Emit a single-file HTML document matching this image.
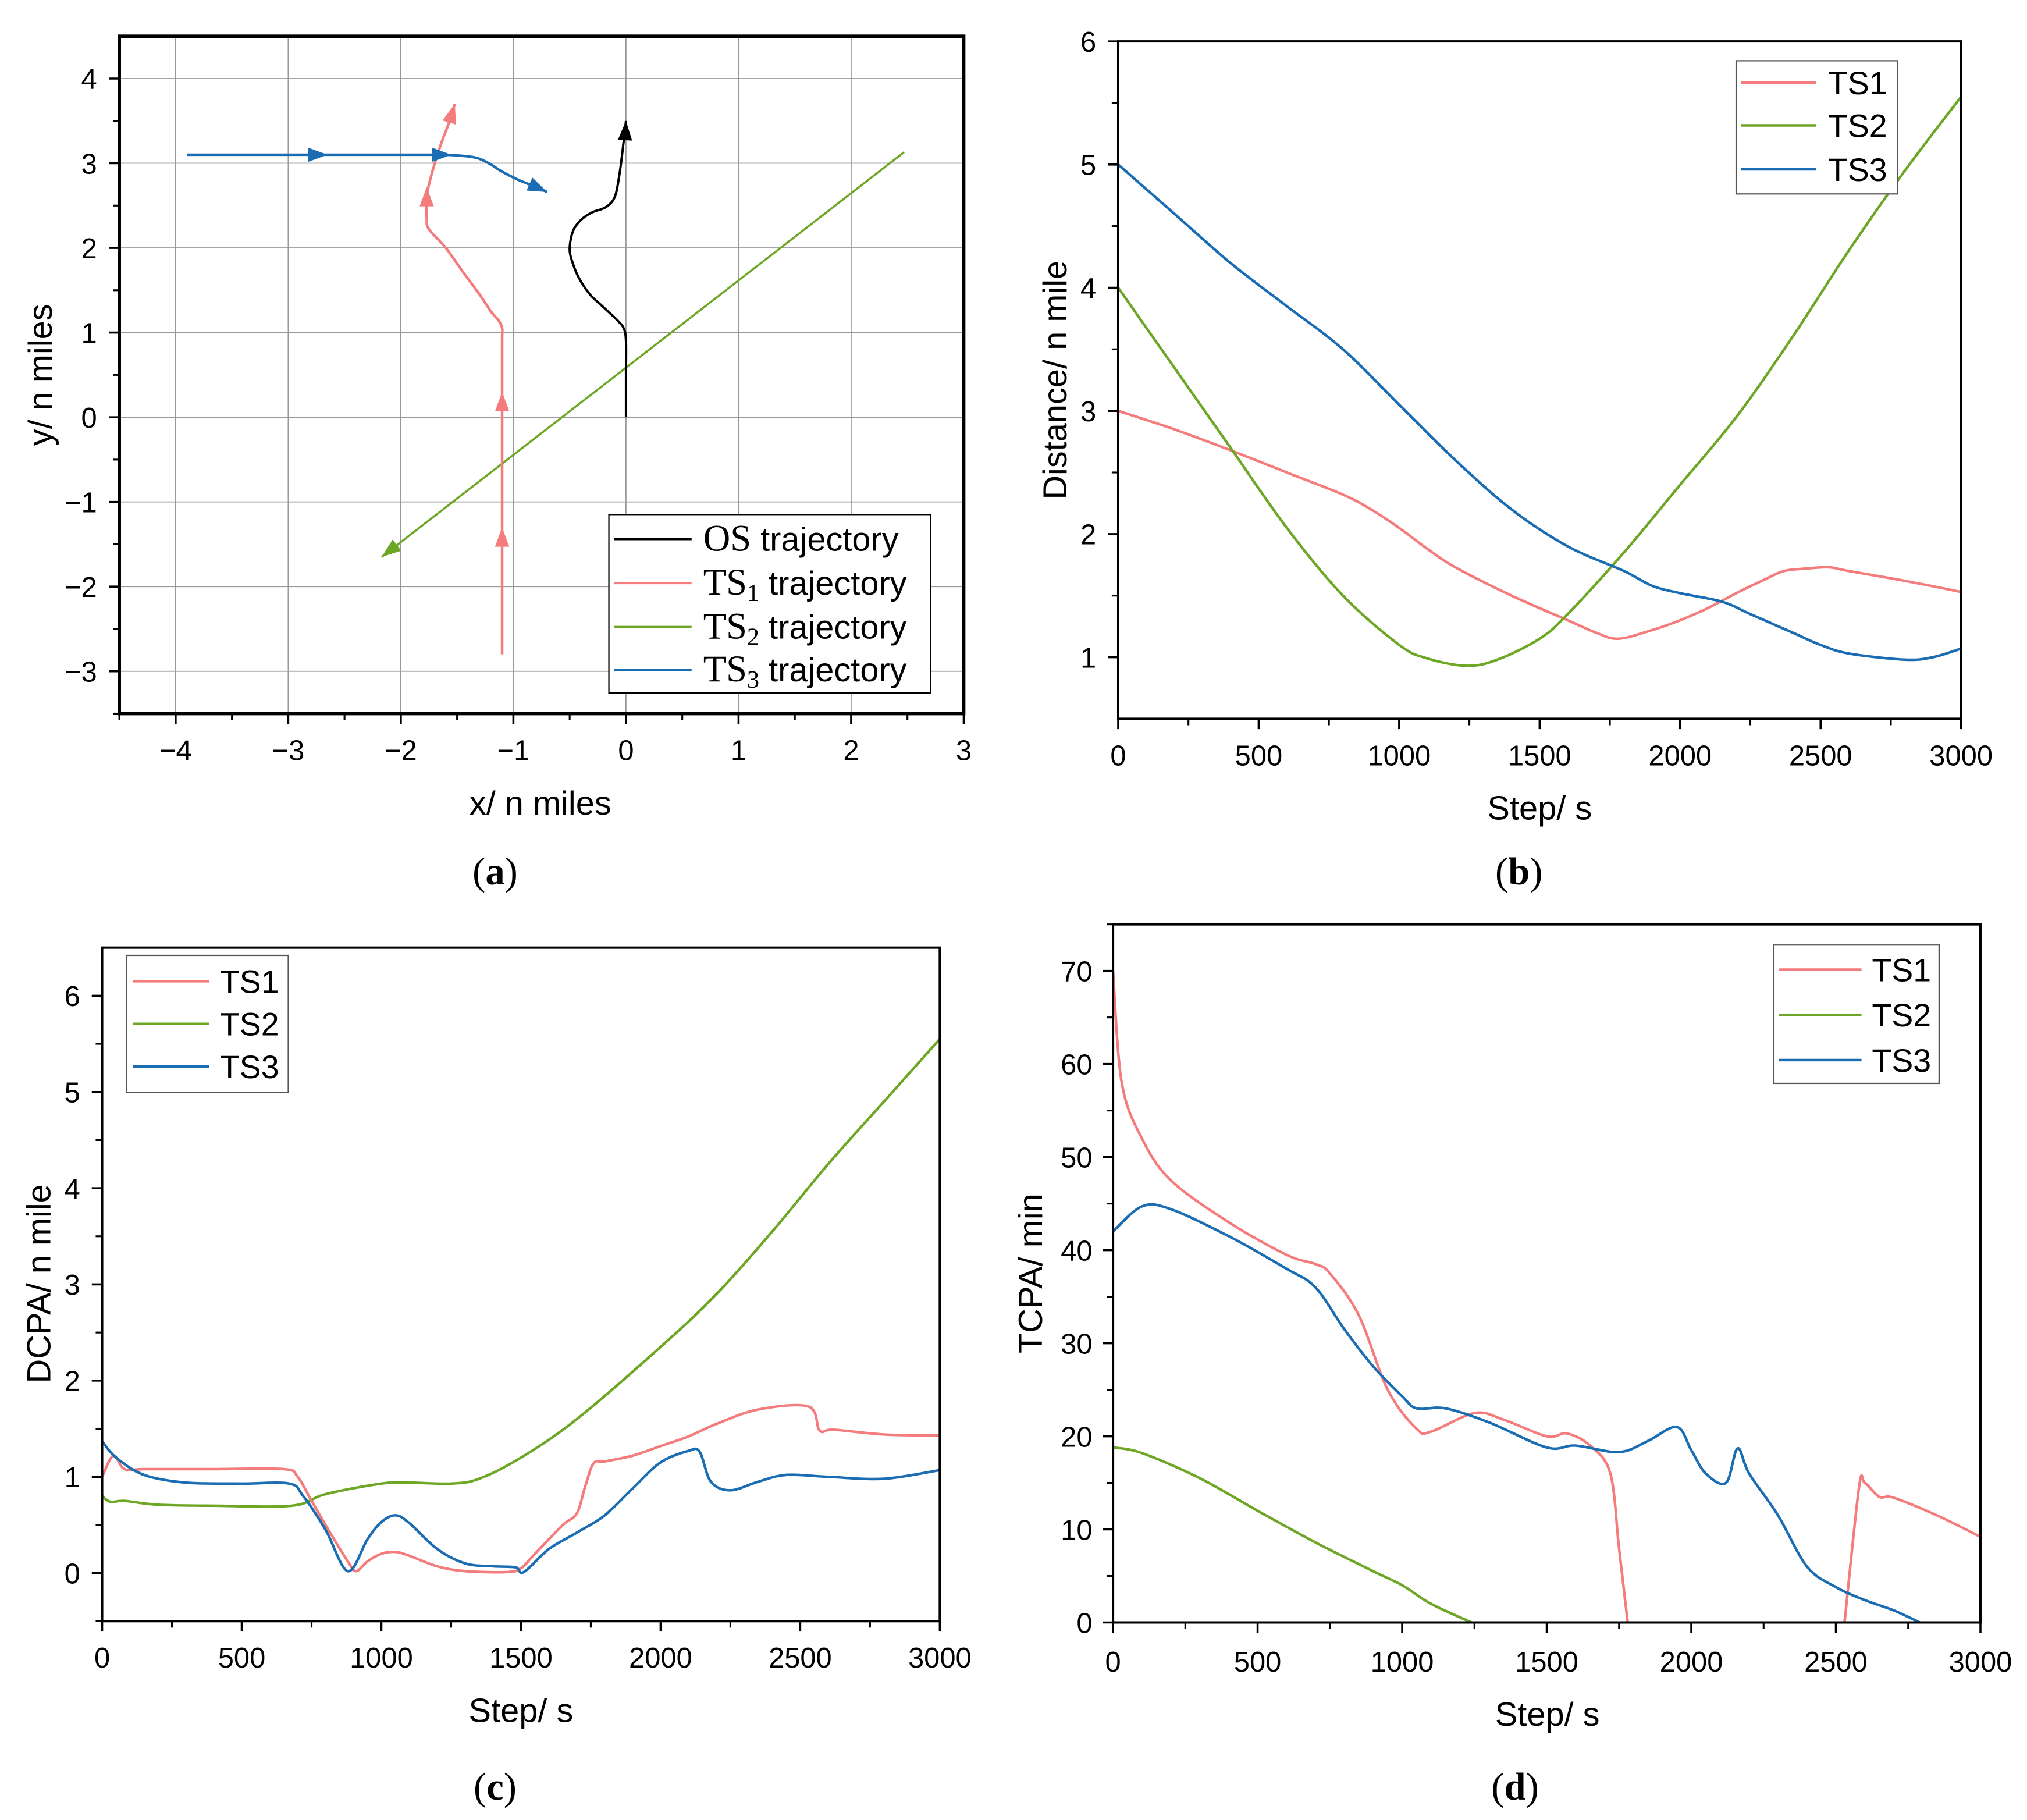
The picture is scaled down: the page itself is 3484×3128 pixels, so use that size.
<!DOCTYPE html>
<html><head><meta charset="utf-8"><style>
html,body{margin:0;padding:0;background:#fff}
svg{display:block}
text{font-family:"Liberation Sans",Arial,sans-serif;fill:#000}
.serif{font-family:"Liberation Serif",serif}
</style></head><body>
<svg id="fig" width="3484" height="3128" viewBox="0 0 1568 1407.8" xmlns="http://www.w3.org/2000/svg"></svg>
<script>
// ---- Panel (a) data ----
const osX=[0,0,0,-0.02,-0.08,-0.2,-0.32,-0.42,-0.48,-0.5,-0.47,-0.4,-0.3,-0.18,-0.1,-0.06,-0.03,0];
const osY=[0,0.5,0.9,1.05,1.15,1.3,1.45,1.65,1.85,2.0,2.2,2.33,2.42,2.48,2.6,2.85,3.15,3.5];
const ts1aX=[-1.1,-1.1,-1.1,-1.1,-1.1,-1.13,-1.2,-1.3,-1.45,-1.6,-1.75,-1.77,-1.77,-1.73,-1.65,-1.58,-1.52];
const ts1aY=[-2.8,-1.5,0,0.9,1.05,1.14,1.25,1.45,1.72,2.0,2.22,2.35,2.6,2.85,3.2,3.45,3.7];
const ts2aX=[2.47,-2.17];
const ts2aY=[3.13,-1.65];
const ts3aX=[-3.9,-2.8,-1.8,-1.6,-1.35,-1.22,-1.1,-0.95,-0.8,-0.7];
const ts3aY=[3.1,3.1,3.1,3.1,3.07,3.0,2.9,2.8,2.72,2.66];
const xTicksA=[-4,-3,-2,-1,0,1,2,3];
const yTicksA=[-3,-2,-1,0,1,2,3,4];
// ---- Panel (b) data ----
const ts1bS=[0,200,400,600,800,900,1000,1100,1200,1400,1600,1700,1780,1900,2000,2100,2200,2300,2370,2450,2530,2600,2800,3000];
const ts1bD=[3.0,2.85,2.68,2.5,2.32,2.2,2.05,1.88,1.73,1.5,1.3,1.2,1.15,1.22,1.3,1.4,1.52,1.63,1.7,1.72,1.73,1.7,1.62,1.53];
const ts2bS=[0,200,400,600,800,1000,1100,1240,1350,1500,1600,1800,2000,2200,2400,2600,2800,3000];
const ts2bD=[4.0,3.35,2.7,2.05,1.5,1.1,0.99,0.93,0.98,1.15,1.35,1.85,2.4,2.95,3.6,4.3,4.95,5.55];
const ts3bS=[0,200,400,600,800,1000,1200,1400,1600,1800,1900,2000,2150,2250,2400,2500,2600,2800,2900,3000];
const ts3bD=[5.0,4.6,4.2,3.85,3.5,3.05,2.6,2.2,1.9,1.7,1.58,1.52,1.45,1.35,1.2,1.1,1.03,0.98,1.0,1.07];
const xTicksStep=[0,500,1000,1500,2000,2500,3000];
const yTicksB=[1,2,3,4,5,6];
// ---- Panel (c) data ----
const ts1cS=[0,40,80,150,400,650,700,750,800,880,910,950,1000,1050,1100,1200,1300,1450,1500,1550,1650,1700,1730,1760,1800,1900,2000,2100,2200,2350,2530,2570,2620,2800,3000];
const ts1cD=[1.0,1.22,1.08,1.08,1.08,1.08,1.0,0.75,0.5,0.12,0.02,0.12,0.2,0.22,0.18,0.07,0.02,0.01,0.05,0.2,0.5,0.62,0.9,1.14,1.16,1.22,1.32,1.42,1.55,1.7,1.73,1.48,1.49,1.44,1.43];
const ts2cS=[0,30,80,200,400,680,800,1000,1100,1250,1350,1500,1700,2000,2200,2400,2600,2800,3000];
const ts2cD=[0.8,0.74,0.75,0.71,0.7,0.7,0.82,0.93,0.94,0.93,0.98,1.2,1.6,2.35,2.9,3.55,4.25,4.9,5.55];
const ts3cS=[0,50,150,300,500,670,720,800,880,950,1000,1050,1100,1200,1300,1400,1480,1510,1600,1700,1800,1900,2000,2100,2140,2180,2250,2350,2450,2600,2800,3000];
const ts3cD=[1.37,1.2,1.02,0.94,0.93,0.93,0.8,0.45,0.02,0.35,0.53,0.6,0.52,0.25,0.1,0.07,0.06,0.01,0.25,0.42,0.6,0.88,1.15,1.27,1.26,0.95,0.86,0.95,1.02,1.0,0.98,1.07];
const yTicksC=[0,1,2,3,4,5,6];
// ---- Panel (d) data ----
const ts1dS=[0,30,100,200,400,600,700,750,850,950,1050,1100,1250,1350,1500,1570,1650,1720,1750,1780];
const ts1dT=[70,58,52,47.5,43,39.5,38.5,37.5,33,25,20.8,20.5,22.5,21.8,20,20.3,19,16,8,0];
const ts1d2S=[2530,2580,2600,2650,2700,2850,3000];
const ts1d2T=[0,14.5,15,13.5,13.4,11.5,9.2];
const ts2dS=[0,100,300,500,700,900,1000,1100,1240];
const ts2dT=[18.8,18.2,15.5,12,8.6,5.5,4,2,0];
const ts3dS=[0,100,200,400,600,700,800,900,1000,1050,1150,1300,1500,1600,1750,1850,1950,2000,2050,2120,2160,2200,2300,2400,2500,2600,2700,2790];
const ts3dT=[42,44.7,44.4,41.5,38,36,31.5,27.5,24.3,23,23,21.5,18.8,19,18.3,19.5,21,18.5,16,15,18.7,16,11.5,6,3.8,2.4,1.3,0];
const yTicksD=[0,10,20,30,40,50,60,70];

const C1='#f47c7c',C2='#6ea626',C3='#1a6db3';
const NS='http://www.w3.org/2000/svg';
const svg=document.getElementById('fig');
function mk(tag,attrs,parent){const e=document.createElementNS(NS,tag);for(const k in attrs)e.setAttribute(k,attrs[k]);(parent||svg).appendChild(e);return e;}
function txt(x,y,s,size,anchor,parent,cls){const t=mk('text',{x:x,y:y,'font-size':size,'text-anchor':anchor||'middle'},parent);if(cls)t.setAttribute('class',cls);t.textContent=s;return t;}
function scale(d0,d1,r0,r1){return v=>r0+(v-d0)/(d1-d0)*(r1-r0);}
function catmull(pts){if(pts.length<3)return 'M'+pts.map(p=>p.join(',')).join('L');let d='M'+pts[0][0]+','+pts[0][1];for(let i=0;i<pts.length-1;i++){const p0=pts[Math.max(0,i-1)],p1=pts[i],p2=pts[i+1],p3=pts[Math.min(pts.length-1,i+2)];const c1x=p1[0]+(p2[0]-p0[0])/6,c1y=p1[1]+(p2[1]-p0[1])/6,c2x=p2[0]-(p3[0]-p1[0])/6,c2y=p2[1]-(p3[1]-p1[1])/6;d+='C'+c1x+','+c1y+' '+c2x+','+c2y+' '+p2[0]+','+p2[1];}return d;}
function series(g,xs,ys,sx,sy,color,name,w){const pts=xs.map((v,i)=>[sx(v),sy(ys[i])]);const p=mk('path',{d:catmull(pts),fill:'none',stroke:color,'stroke-width':w||2,'stroke-linejoin':'round'},g);return p;}
function arrowAt(g,x,y,dx,dy,color){const L=Math.hypot(dx,dy);const ux=dx/L,uy=dy/L;const len=15,hw=5.5;const bx=x-ux*len,by=y-uy*len;const a=mk('polygon',{points:`${x},${y} ${bx-uy*hw},${by+ux*hw} ${bx+uy*hw},${by-ux*hw}`,fill:color},g);}
function frame(g,L,R,T,B){const r=mk('rect',{x:L,y:T,width:R-L,height:B-T,fill:'none',stroke:'#000','stroke-width':1.8},g);}
function axes(g,L,R,T,B,sx,sy,xt,yt,xMinor,yMinor,xFmt,yFmt,xLabY,yLabX){
 const ax=mk('g',{},g);
 xt.forEach(v=>{const x=sx(v);mk('line',{x1:x,x2:x,y1:B,y2:B+8,stroke:'#000','stroke-width':1.6},ax);const t=txt(x,xLabY,xFmt(v),22,'middle',ax);});
 xMinor.forEach(v=>{const x=sx(v);mk('line',{x1:x,x2:x,y1:B,y2:B+5,stroke:'#000','stroke-width':1.4},ax);});
 const ay=mk('g',{},g);
 yt.forEach(v=>{const y=sy(v);mk('line',{x1:L-8,x2:L,y1:y,y2:y,stroke:'#000','stroke-width':1.6},ay);const t=txt(yLabX,y+8,yFmt(v),22,'end',ay);});
 yMinor.forEach(v=>{const y=sy(v);mk('line',{x1:L-5,x2:L,y1:y,y2:y,stroke:'#000','stroke-width':1.4},ay);});
}
const fmt=v=>v<0?'\u2212'+(-v):String(v);
function legend(g,x,y,w,h,rows,entries,lx0,lx1,tx){const lg=mk('g',{},g);
 mk('rect',{x:x,y:y,width:w,height:h,fill:'#fff',stroke:'#555','stroke-width':1},lg);
 entries.forEach((e,i)=>{const it=mk('g',{},lg);mk('line',{x1:lx0,x2:lx1,y1:rows[i],y2:rows[i],stroke:e[1],'stroke-width':2},it);txt(tx,rows[i]+9,e[0],25,'start',it);});}
function caption(g,x,y,letter){const t=mk('text',{x:x,y:y,'font-size':30,'text-anchor':'middle',class:'serif'},g);
 const a=mk('tspan',{},t);a.textContent='(';const b=mk('tspan',{'font-weight':'bold'},t);b.textContent=letter;const c=mk('tspan',{},t);c.textContent=')';}

// ===== Panel a =====
(function(){const g=mk('g',{});
 const L=92.3,R=745.5,T=28,B=552;const sx=scale(-4.5,3,L,R),sy=scale(-3.5,4.5,B,T);
 const grid=mk('g',{},g);
 xTicksA.forEach(v=>mk('line',{x1:sx(v),x2:sx(v),y1:T,y2:B,stroke:'#999','stroke-width':0.8},grid));
 yTicksA.forEach(v=>mk('line',{x1:L,x2:R,y1:sy(v),y2:sy(v),stroke:'#999','stroke-width':0.8},grid));
 axes(g,L,R,T,B,sx,sy,xTicksA,yTicksA,[-4.5,-3.5,-2.5,-1.5,-0.5,0.5,1.5,2.5],[-3.5,-2.5,-1.5,-0.5,0.5,1.5,2.5,3.5],fmt,fmt,588,75);
 series(g,ts2aX,ts2aY,sx,sy,C2,'ts2-trajectory',1.6);
 series(g,ts1aX,ts1aY,sx,sy,C1,'ts1-trajectory',2);
 series(g,ts3aX,ts3aY,sx,sy,C3,'ts3-trajectory',2);
 series(g,osX,osY,sx,sy,'#000','os-trajectory',1.8);
 arrowAt(g,sx(-2.17),sy(-1.65),sx(-2.17)-sx(2.47),sy(-1.65)-sy(3.13),C2);
 arrowAt(g,sx(-1.1),sy(-1.3),0,-1,C1);arrowAt(g,sx(-1.1),sy(0.3),0,-1,C1);
 arrowAt(g,sx(-1.77),sy(2.72),0,-1,C1);arrowAt(g,sx(-1.52),sy(3.7),0.3,-1,C1);
 arrowAt(g,sx(-2.65),sy(3.1),1,0,C3);arrowAt(g,sx(-1.55),sy(3.1),1,0,C3);arrowAt(g,sx(-0.7),sy(2.66),1,0.45,C3);
 arrowAt(g,sx(0),sy(3.5),0.05,-1,'#000');
 mk('rect',{x:L,y:T,width:R-L,height:B-T,fill:'none',stroke:'#000','stroke-width':2.6},g);
 const lg=mk('g',{},g);
 mk('rect',{x:471,y:398,width:249,height:138,fill:'#fff',stroke:'#000','stroke-width':1},lg);
 const rows=[417,451,485,518],cols=['#000',C1,C2,C3],subs=['','1','2','3'];
 rows.forEach((y,i)=>{const it=mk('g',{},lg);mk('line',{x1:475,x2:535,y1:y,y2:y,stroke:cols[i],'stroke-width':1.8},it);
  const t=mk('text',{x:544,y:y+9,'font-size':26,'text-anchor':'start'},it);
  const s1=mk('tspan',{class:'serif','font-size':29},t);s1.textContent=i==0?'OS':'TS';
  if(subs[i]){const s2=mk('tspan',{class:'serif','font-size':19,dy:5},t);s2.textContent=subs[i];const s3=mk('tspan',{dy:-5},t);s3.textContent=' trajectory';}
  else{const s3=mk('tspan',{},t);s3.textContent=' trajectory';}});
 const xt=txt(418,630,'x/ n miles',26,'middle',g);
 const yt=txt(0,0,'y/ n miles',26,'middle',g);yt.setAttribute('transform','translate(40,290) rotate(-90)');
 caption(g,383,684,'a');
})();

function linePanel(id,L,R,T,B,ymin,ymax,yt,yMinor,xLabY,yLabX,ytitle,ytx,yty,stx,sty,cap,capx,capy,data,leg){
 const g=mk('g',{});
 const sx=scale(0,3000,L,R),sy=scale(ymin,ymax,B,T);
 const cp=mk('clipPath',{id:id+'-clip'},g);mk('rect',{x:L,y:T,width:R-L,height:B-T},cp);
 axes(g,L,R,T,B,sx,sy,xTicksStep,yt,[250,750,1250,1750,2250,2750],yMinor,String,String,xLabY,yLabX);
 const sg=mk('g',{'clip-path':'url(#'+id+'-clip)'},g);
 data.forEach(d=>series(sg,d[0],d[1],sx,sy,d[2],d[3],2));
 frame(g,L,R,T,B);
 legend(g,leg[0],leg[1],leg[2],leg[3],leg[4],[['TS1',C1],['TS2',C2],['TS3',C3]],leg[5],leg[6],leg[7]);
 const xt=txt(stx,sty,'Step/ s',26,'middle',g);
 const y=txt(0,0,ytitle,26,'middle',g);y.setAttribute('transform',`translate(${ytx},${yty}) rotate(-90)`);
 caption(g,capx,capy,cap);
}
linePanel('panel-b-distance',865,1517,32,556,0.5,6,yTicksB,[1.5,2.5,3.5,4.5,5.5],592,848,'Distance/ n mile',825,294,1191,634,'b',1175,684,
 [[ts1bS,ts1bD,C1,'ts1-distance'],[ts2bS,ts2bD,C2,'ts2-distance'],[ts3bS,ts3bD,C3,'ts3-distance']],
 [1343,47,125,103,[64,97,131],1347,1405,1414]);
linePanel('panel-c-dcpa',79,727,733,1254,-0.5,6.5,yTicksC,[-0.5,0.5,1.5,2.5,3.5,4.5,5.5],1290,62,'DCPA/ n mile',39,993,403,1332,'c',383,1392,
 [[ts2cS,ts2cD,C2,'ts2-dcpa'],[ts1cS,ts1cD,C1,'ts1-dcpa'],[ts3cS,ts3cD,C3,'ts3-dcpa']],
 [98,739,125,106,[759,792,825],103,162,170]);
linePanel('panel-d-tcpa',861,1532,715,1255,0,75,yTicksD,[5,15,25,35,45,55,65,75],1293,845,'TCPA/ min',806,985,1197,1335,'d',1172,1392,
 [[ts2dS,ts2dT,C2,'ts2-tcpa'],[ts1dS,ts1dT,C1,'ts1-tcpa'],[ts1d2S,ts1d2T,C1,'ts1-tcpa-late'],[ts3dS,ts3dT,C3,'ts3-tcpa']],
 [1372,731,128,107,[750,785,820],1376,1440,1448]);
</script>
</body></html>
